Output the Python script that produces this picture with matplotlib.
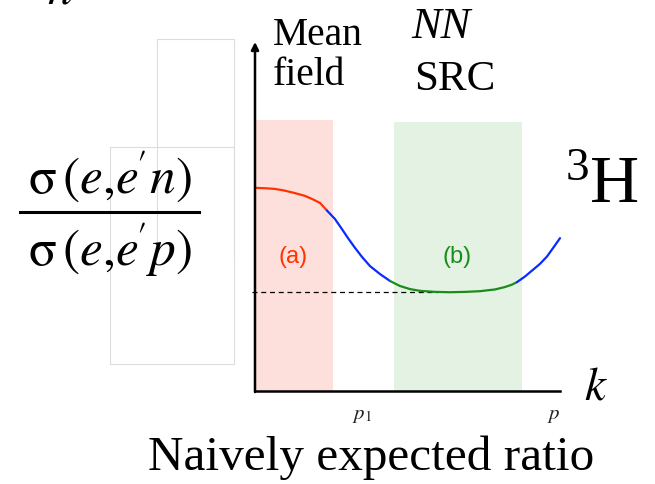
import matplotlib
matplotlib.use("Agg")
import matplotlib.pyplot as plt
from matplotlib.lines import Line2D

plt.rcParams["mathtext.fontset"] = "stix"

# Momentum axis (k) and cross-section ratio
k_pts = [0.0, 0.033, 0.066, 0.098, 0.131, 0.164, 0.190, 0.213, 0.236,
         0.262, 0.285, 0.305, 0.328, 0.351, 0.377, 0.410, 0.443,
         0.475, 0.508, 0.541, 0.590, 0.639, 0.689, 0.738, 0.787, 0.820, 0.843, 0.859,
         0.885, 0.911, 0.934, 0.957, 0.980, 1.0]
ratio = [0.582, 0.581, 0.579, 0.574, 0.567, 0.559, 0.549, 0.539, 0.517,
         0.493, 0.464, 0.438, 0.410, 0.384, 0.358, 0.335, 0.315,
         0.301, 0.292, 0.287, 0.284, 0.283, 0.284, 0.286, 0.291, 0.298, 0.305, 0.312,
         0.328, 0.347, 0.364, 0.385, 0.413, 0.438]

# index ranges and colours of the curve pieces
segments = [(0, 8, "#ff3300"), (8, 16, "#0a2bff"), (16, 27, "#1a8c1a"), (27, 33, "#0a2bff")]

naive_ratio = 0.284
mean_field_band = (0.0, 0.256, 0.777)
src_band = (0.456, 0.875, 0.771)
tick_pos = [0.351, 0.98]
tick_labels = [r"$p_1$", r"$p$"]

W, H = 655, 484
fig = plt.figure(figsize=(W / 100, H / 100), dpi=100)

# overlay in pixel units for the surrounding labels
deco = fig.add_axes([0, 0, 1, 1], zorder=0)
deco.set_xlim(0, W)
deco.set_ylim(H, 0)
deco.axis("off")

ax = fig.add_axes([255 / W, (H - 391) / H, 305 / W, (391 - 42) / H], zorder=1)
ax.set_facecolor("none")
ax.set_xlim(0, 1)
ax.set_ylim(0, 1)

ax.axvspan(mean_field_band[0], mean_field_band[1], ymax=mean_field_band[2],
           color="#fde0dc", lw=0, zorder=0)
ax.axvspan(src_band[0], src_band[1], ymax=src_band[2],
           color="#e3f2e2", lw=0, zorder=0)

ax.plot([-0.01, 0.6], [naive_ratio, naive_ratio], ls=(0, (4, 3)), color="black",
        lw=0.9, clip_on=False, zorder=1)

for i0, i1, c in segments:
    ax.plot(k_pts[i0:i1 + 1], ratio[i0:i1 + 1], color=c, lw=1.6,
            solid_capstyle="round", solid_joinstyle="round", clip_on=False, zorder=2)

for s in ["top", "right", "left"]:
    ax.spines[s].set_visible(False)
ax.spines["bottom"].set_linewidth(1.8)
ax.annotate("", xy=(0, 1.0), xytext=(0, -0.003), xycoords="axes fraction",
            arrowprops=dict(arrowstyle="-|>", lw=1.8, color="black",
                            mutation_scale=11, shrinkA=0, shrinkB=0))

ax.set_yticks([])
ax.set_xticks(tick_pos)
ax.set_xticklabels(tick_labels, fontsize=15, color="#222222")
ax.tick_params(axis="x", length=0, pad=10)

ax.text(0.124, 0.385, "(a)", color="#ff3300", fontsize=17, ha="center",
        va="center", family="Liberation Sans")
ax.text(0.662, 0.385, "(b)", color="#1a8c1a", fontsize=17, ha="center",
        va="center", family="Liberation Sans")

serif = "Liberation Serif"

# faint outline boxes
deco.add_line(Line2D([157, 157, 234, 234], [257, 39, 39, 257], color="#dcdcdc", lw=0.8))
deco.add_line(Line2D([110, 110, 234, 234, 110], [364, 147, 147, 364, 364], color="#dcdcdc", lw=0.8))

deco.text(47, 4, r"$n$", fontsize=36, va="baseline", ha="left")

# cross-section ratio
deco.text(110, 194, r"$\mathrm{\sigma}\,(e{,}e^{\!\prime}n)$", fontsize=37, ha="center", va="baseline")
deco.add_line(Line2D([20, 199], [212, 212], color="black", lw=2.2))
deco.text(110, 266, r"$\mathrm{\sigma}\,(e{,}e^{\!\prime}p)$", fontsize=37, ha="center", va="baseline")

deco.text(273, 45, "Mean", fontsize=28.5, family=serif, va="baseline")
deco.text(273, 85, "field", fontsize=28.5, family=serif, va="baseline")
deco.text(411, 38, "NN", fontsize=32, family=serif, style="italic", va="baseline")
deco.text(414, 90, "SRC", fontsize=31, family=serif, va="baseline")

deco.text(566, 180, "3", fontsize=34, family=serif, va="baseline")
deco.text(590, 202, "H", fontsize=49, family=serif, va="baseline")

deco.text(584, 400, r"$k$", fontsize=34, va="baseline")

deco.text(371, 470, "Naively expected ratio", fontsize=35.5, family=serif,
          ha="center", va="baseline")

fig.savefig("out.png", dpi=100)
